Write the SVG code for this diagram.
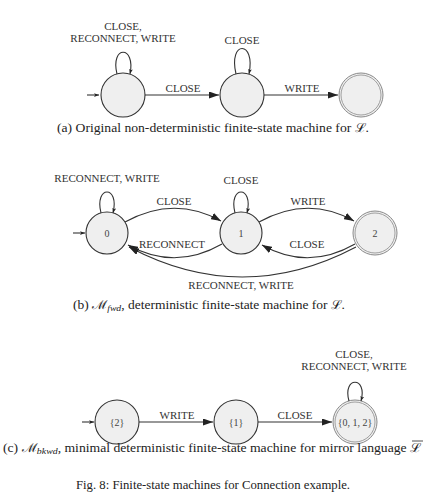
<svg xmlns="http://www.w3.org/2000/svg" width="423" height="503" viewBox="0 0 423 503">
<style>
  .st { fill: #efefef; stroke: #333; stroke-width: 1.1; }
  .acc { fill: #efefef; stroke: #8a8a8a; stroke-width: 1; }
  .acci { fill: none; stroke: #a0a0a0; stroke-width: 1; }
  .lbl { font-family: "Liberation Serif", "DejaVu Serif", serif; font-size: 11px; fill: #333; text-anchor: middle; }
  .sl { font-family: "Liberation Serif", "DejaVu Serif", serif; font-size: 10px; fill: #444; text-anchor: middle; }
  .cap { font-family: "Liberation Serif", "DejaVu Serif", serif; font-size: 12.5px; fill: #222; text-anchor: middle; }
  .fig { font-family: "Liberation Serif", "DejaVu Serif", serif; font-size: 13.5px; fill: #222; text-anchor: middle; }
  .eA { fill: none; stroke: #333; stroke-width: 1.1; marker-end: url(#ah); }
  .eL { fill: none; stroke: #333; stroke-width: 1.1; marker-end: url(#as); }
</style>
<defs>
  <marker id="ah" viewBox="0 0 10 7" refX="10" refY="3.5" markerWidth="10" markerHeight="7" markerUnits="userSpaceOnUse" orient="auto">
    <path d="M0,0 L10,3.5 L0,7 z" fill="#222"/>
  </marker>
  <marker id="as" viewBox="0 0 8 6" refX="8" refY="3" markerWidth="5" markerHeight="4" markerUnits="userSpaceOnUse" orient="auto">
    <path d="M0,0 L8,3 L0,6 L2,3 z" fill="#222"/>
  </marker>
</defs>

<!-- (a) -->
<g id="a_s0"><circle class="st" cx="123" cy="95" r="22"/></g>
<g id="a_s1"><circle class="st" cx="242" cy="95" r="22"/></g>
<g id="a_s2"><circle class="acc" cx="361" cy="95" r="22"/><circle class="acci" cx="361" cy="95" r="20"/></g>

<!-- (b) -->
<g id="b_s0"><circle class="st" cx="107" cy="233" r="21"/><text class="sl" x="107" y="236.5">0</text></g>
<g id="b_s1"><circle class="st" cx="241" cy="233" r="21"/><text class="sl" x="241" y="236.5">1</text></g>
<g id="b_s2"><circle class="acc" cx="375" cy="233" r="22"/><circle class="acci" cx="375" cy="233" r="20"/><text class="sl" x="375" y="236.5">2</text></g>

<!-- (c) -->
<g id="c_s2"><circle class="st" cx="117" cy="422" r="22"/><text class="sl" x="117" y="425.5">{2}</text></g>
<g id="c_s1"><circle class="st" cx="236" cy="422" r="22"/><text class="sl" x="236" y="425.5">{1}</text></g>
<g id="c_s012"><circle class="acc" cx="355" cy="422" r="22"/><circle class="acci" cx="355" cy="422" r="20"/><text class="sl" x="355" y="425.5">{0, 1, 2}</text></g>

<g id="connectors">
  <!-- (a) -->
  <path class="eL" d="M87 95 L99 95"/>
  <path class="eL" d="M117 74 C110 45, 136 45, 130 74"/>
  <path class="eL" d="M236 74 C228 40, 256 40, 249 74"/>
  <path class="eA" d="M145 95 L219 95"/>
  <path class="eA" d="M264 95 L338 95"/>
  <!-- (b) -->
  <path class="eL" d="M73 233 L85 233"/>
  <path class="eL" d="M101 213 C94 185, 120 185, 113 213"/>
  <path class="eL" d="M235 213 C228 185, 254 185, 247 213"/>
  <path class="eA" d="M125 222 Q174 195 221 221"/>
  <path class="eA" d="M259 222 Q308 195 354 221"/>
  <path class="eA" d="M222 244 Q175 271 128 245"/>
  <path class="eA" d="M355 244 Q308 271 262 245"/>
  <path class="eA" d="M356 247 Q242 307 129 247"/>
  <!-- (c) -->
  <path class="eL" d="M82 422 L94 422"/>
  <path class="eL" d="M349 401 C342 376, 368 376, 361 401"/>
  <path class="eA" d="M139 422 L213 422"/>
  <path class="eA" d="M258 422 L332 422"/>
</g>

<g id="labels">
  <!-- (a) -->
  <text class="lbl" x="123" y="30">CLOSE,</text>
  <text class="lbl" x="123" y="41.5">RECONNECT, WRITE</text>
  <text class="lbl" x="242" y="43.5">CLOSE</text>
  <text class="lbl" x="183" y="91.5">CLOSE</text>
  <text class="lbl" x="302" y="91.5">WRITE</text>
  <text class="cap" x="213" y="132" textLength="312" lengthAdjust="spacingAndGlyphs">(a) Original non-deterministic finite-state machine for ℒ.</text>
  <!-- (b) -->
  <text class="lbl" x="107" y="182">RECONNECT, WRITE</text>
  <text class="lbl" x="241" y="184">CLOSE</text>
  <text class="lbl" x="174" y="205">CLOSE</text>
  <text class="lbl" x="308" y="205">WRITE</text>
  <text class="lbl" x="172" y="248">RECONNECT</text>
  <text class="lbl" x="307" y="248">CLOSE</text>
  <text class="lbl" x="241" y="289">RECONNECT, WRITE</text>
  <text class="cap" x="209" y="309" textLength="272" lengthAdjust="spacingAndGlyphs">(b) ℳ<tspan font-style="italic" font-size="9" dy="2">fwd</tspan><tspan dy="-2">, deterministic finite-state machine for ℒ.</tspan></text>
  <!-- (c) -->
  <text class="lbl" x="354" y="358">CLOSE,</text>
  <text class="lbl" x="354" y="370">RECONNECT, WRITE</text>
  <text class="lbl" x="177" y="419">WRITE</text>
  <text class="lbl" x="295" y="419">CLOSE</text>
  <text class="cap" x="3" y="452" style="text-anchor:start" textLength="418" lengthAdjust="spacingAndGlyphs">(c) ℳ<tspan font-style="italic" font-size="9" dy="2">bkwd</tspan><tspan dy="-2">, minimal deterministic finite-state machine for mirror language ℒ</tspan></text>
  <line x1="412" y1="441" x2="423" y2="441" stroke="#222" stroke-width="0.8"/>
  <text class="fig" x="213" y="489" textLength="274" lengthAdjust="spacingAndGlyphs">Fig. 8: Finite-state machines for Connection example.</text>
</g>
</svg>
